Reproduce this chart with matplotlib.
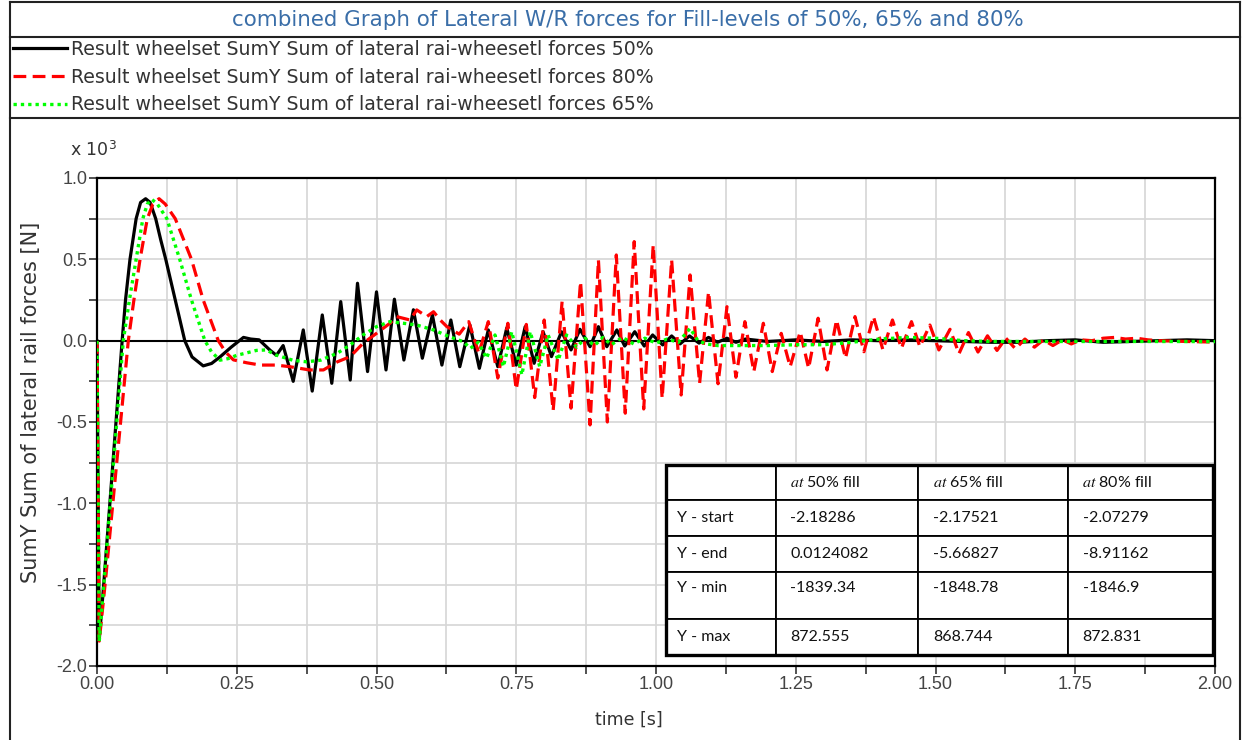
import numpy as np
import matplotlib.pyplot as plt
from matplotlib.lines import Line2D
from matplotlib.patches import Rectangle
from matplotlib.ticker import MultipleLocator, FormatStrFormatter

plt.rcParams['font.family'] = ['Liberation Sans', 'DejaVu Sans']
plt.rcParams['mathtext.fontset'] = 'stix'
WIDE = 'DejaVu Sans'

# (time [s], lateral force [N]) for each fill level
fill50 = [
    (0.0, -2.18286), (0.004, -1839.34), (0.012, -1500), (0.023, -1000), (0.034, -500),
    (0.045, 0), (0.051, 250), (0.059, 500), (0.070, 750), (0.078, 850),
    (0.087, 872.555), (0.095, 850), (0.105, 750), (0.114, 620), (0.123, 500),
    (0.140, 250), (0.157, 0), (0.170, -100), (0.190, -155), (0.205, -140),
    (0.220, -100), (0.240, -40), (0.262, 20), (0.275, 10), (0.290, 5),
    (0.310, -60), (0.321, -90), (0.333, -30), (0.351, -250), (0.369, 66),
    (0.385, -310), (0.403, 158), (0.420, -262), (0.436, 240), (0.453, -242),
    (0.466, 353), (0.484, -190), (0.500, 300), (0.517, -180), (0.532, 255),
    (0.549, -119), (0.566, 190), (0.582, -108), (0.600, 158), (0.617, -150),
    (0.633, 127), (0.649, -160), (0.667, 97), (0.684, -170), (0.700, 66),
    (0.717, -160), (0.733, 78), (0.750, -150), (0.766, 86), (0.782, -139),
    (0.798, 55), (0.813, -98), (0.831, 55), (0.848, -57), (0.864, 70),
    (0.882, -37), (0.897, 86), (0.912, -37), (0.930, 66), (0.944, -33),
    (0.962, 55), (0.979, -33), (0.994, 35), (1.012, -26), (1.028, 29),
    (1.043, -20), (1.060, 29), (1.077, -15), (1.094, 20), (1.110, -10),
    (1.127, 15), (1.143, -10), (1.160, 10), (1.200, -5), (1.250, 5),
    (1.300, -5), (1.350, 5), (1.400, 0), (1.450, 5), (1.500, 0),
    (1.550, -5), (1.600, -10), (1.650, -10), (1.700, 0), (1.750, 5),
    (1.800, -10), (1.850, -5), (1.900, 0), (1.950, 5), (2.000, 0.0124082),
]

fill80 = [
    (0.0, -2.07279), (0.004, -1846.9), (0.015, -1480), (0.025, -1120), (0.035, -760),
    (0.045, -400), (0.056, 0), (0.066, 250), (0.077, 500), (0.090, 750),
    (0.100, 840), (0.111, 872.831), (0.122, 840), (0.140, 750), (0.169, 500),
    (0.190, 250), (0.217, 0), (0.230, -70), (0.244, -118), (0.268, -136),
    (0.292, -150), (0.320, -150), (0.345, -160), (0.380, -180), (0.405, -180),
    (0.430, -130), (0.453, -98), (0.476, -16), (0.500, 45), (0.524, 107),
    (0.536, 148), (0.560, 127), (0.572, 189), (0.590, 148), (0.602, 178),
    (0.614, 127), (0.626, 86), (0.648, 40), (0.665, 117), (0.683, -77),
    (0.700, 117), (0.717, -230), (0.735, 107), (0.750, -300), (0.768, 100),
    (0.783, -350), (0.800, 127), (0.816, -430), (0.832, 240), (0.848, -415),
    (0.865, 363), (0.882, -518), (0.897, 496), (0.913, -500), (0.929, 527),
    (0.945, -446), (0.961, 609), (0.978, -420), (0.995, 588), (1.011, -354),
    (1.028, 496), (1.045, -334), (1.061, 404), (1.078, -262), (1.094, 300),
    (1.111, -265), (1.127, 209), (1.143, -225), (1.159, 117), (1.175, -190),
    (1.192, 107), (1.208, -190), (1.224, 45), (1.240, -160), (1.258, 55),
    (1.273, -170), (1.290, 138), (1.306, -180), (1.323, 127), (1.339, -108),
    (1.356, 148), (1.372, -68), (1.389, 148), (1.406, -57), (1.423, 127),
    (1.439, -47), (1.457, 117), (1.472, -37), (1.490, 96), (1.506, -57),
    (1.526, 70), (1.542, -80), (1.559, 50), (1.576, -70), (1.593, 30),
    (1.610, -60), (1.626, 15), (1.643, -50), (1.660, 10), (1.677, -40),
    (1.693, 5), (1.710, -30), (1.727, 5), (1.743, -20), (1.760, 5),
    (1.780, 0), (1.800, 15), (1.820, 20), (1.840, 10), (1.860, 15),
    (1.880, 5), (1.900, 0), (1.950, -5), (2.000, -8.91162),
]

fill65 = [
    (0.0, -2.17521), (0.004, -1848.78), (0.010, -1590), (0.020, -1160), (0.030, -730),
    (0.040, -300), (0.047, 0), (0.058, 250), (0.070, 500), (0.082, 750),
    (0.090, 840), (0.098, 868.744), (0.108, 840), (0.125, 750), (0.148, 500),
    (0.169, 250), (0.193, 0), (0.205, -70), (0.220, -120), (0.235, -110),
    (0.250, -90), (0.268, -75), (0.285, -60), (0.303, -57), (0.320, -88),
    (0.350, -120), (0.375, -130), (0.400, -120), (0.430, -77), (0.453, -26),
    (0.476, 35), (0.500, 86), (0.524, 117), (0.548, 107), (0.572, 96),
    (0.602, 66), (0.630, 25), (0.655, -6), (0.668, -47), (0.682, -10),
    (0.697, -108), (0.712, 35), (0.727, -160), (0.742, 55), (0.760, -210),
    (0.775, 55), (0.792, -160), (0.807, 35), (0.825, -120), (0.840, 35),
    (0.858, -40), (0.873, 15), (0.890, -30), (0.905, 20), (0.920, -25),
    (0.940, 20), (0.960, -20), (0.980, 15), (1.000, -15), (1.020, 10),
    (1.040, -10), (1.061, 76), (1.075, 0), (1.090, -20), (1.110, -30),
    (1.150, -30), (1.200, -30), (1.250, -25), (1.300, -25), (1.350, -10),
    (1.400, 10), (1.450, 20), (1.500, 15), (1.550, 0), (1.600, -5),
    (1.700, -5), (1.800, -5), (1.900, -5), (2.000, -5.66827),
]

legend_base = 'Result wheelset SumY Sum of lateral rai-wheesetl forces '

col_heads = ['', r'$at$ 50% fill', r'$at$ 65% fill', r'$at$ 80% fill']
row_names = ['Y - start', 'Y - end', 'Y - min', 'Y - max']
stats50 = ['-2.18286', '0.0124082', '-1839.34', '872.555']
stats65 = ['-2.17521', '-5.66827', '-1848.78', '868.744']
stats80 = ['-2.07279', '-8.91162', '-1846.9', '872.831']

t50, y50 = np.array(fill50).T
t80, y80 = np.array(fill80).T
t65, y65 = np.array(fill65).T

W, H = 1248, 740
fig = plt.figure(figsize=(W / 100, H / 100), dpi=100)
ax = fig.add_axes([97 / W, 74 / H, 1118 / W, 488 / H])

ax.axhline(0, color='black', lw=1.5, zorder=2)
ax.plot(t50, y50 / 1000, color='black', lw=2.3, zorder=3, label=legend_base + '50%')
ax.plot(t80, y80 / 1000, color='#ff0000', lw=2.3, ls=(0, (4, 2)), zorder=4,
        label=legend_base + '80%')
ax.plot(t65, y65 / 1000, color='#00ff00', lw=2.4, ls=(0, (1, 1.2)), zorder=5,
        label=legend_base + '65%')

ax.set_xlim(0, 2)
ax.set_ylim(-2, 1)
ax.xaxis.set_major_locator(MultipleLocator(0.25))
ax.xaxis.set_minor_locator(MultipleLocator(0.125))
ax.yaxis.set_major_locator(MultipleLocator(0.5))
ax.yaxis.set_minor_locator(MultipleLocator(0.25))
ax.xaxis.set_major_formatter(FormatStrFormatter('%.2f'))
ax.yaxis.set_major_formatter(FormatStrFormatter('%.1f'))
ax.grid(True, which='both', color='#d6d6d6', lw=1.2, zorder=0)
ax.set_axisbelow(True)
ax.tick_params(which='both', direction='out', length=6, width=1.2, color='#333333',
               labelsize=13, labelcolor='#444444', pad=1)
for s in ax.spines.values():
    s.set_linewidth(1.6)
    s.set_color('black')

# statistics table
cells = [col_heads]
for i, name in enumerate(row_names):
    cells.append([name, stats50[i], stats65[i], stats80[i]])
col_w = [110, 142, 150, 145]
row_h = [35, 36, 36, 47, 36]
tbl = ax.table(cellText=cells, cellLoc='left',
               colWidths=[w / sum(col_w) for w in col_w],
               bbox=[569 / 1118, 11 / 488, 547 / 1118, 190 / 488])
tbl.auto_set_font_size(False)
tbl.set_fontsize(11.5)
tbl.set_zorder(10)
for (r, c), cell in tbl.get_celld().items():
    cell.set_height(row_h[r] / 488)
    cell.set_linewidth(1.3)
    cell.set_edgecolor('black')
    cell.set_facecolor('white')
    txt = cell.get_text()
    txt.set_fontfamily(['Lato', 'DejaVu Sans'])
    txt.set_color('#111111')
    if r == 3:
        txt.set_va('bottom')
ax.add_patch(Rectangle((569 / 1118, 11 / 488), 547 / 1118, 190 / 488,
                       transform=ax.transAxes, fill=False, lw=2.4,
                       edgecolor='black', zorder=11))

# labels
fig.text(629 / W, 1 - 720 / H, 'time [s]', ha='center', va='center',
         fontsize=12.5, color='#333333', family=WIDE)
fig.text(31 / W, 1 - 402 / H, 'SumY Sum of lateral rail forces [N]', rotation=90,
         ha='center', va='center', fontsize=15, color='#333333', family=WIDE)
fig.text(70 / W, 1 - 150 / H, r'x 10$^{\mathregular{3}}$', ha='left', va='center',
         fontsize=12.5, color='#333333', family=WIDE)

# header: title, legend and frame
fig.text(628 / W, 1 - 20 / H,
         'combined Graph of Lateral W/R forces for Fill-levels of 50%, 65% and 80%',
         ha='center', va='center', fontsize=15.4, color='#3a6ea8', family=WIDE)
fig.legend(loc='upper left', bbox_to_anchor=(13 / W, 1 - 40 / H), frameon=False,
           prop={'family': WIDE, 'size': 13.6}, handlelength=2.85,
           handletextpad=0.22, labelspacing=0.46, borderpad=0, borderaxespad=0,
           labelcolor='#333333')

for x in (10, 1240):
    fig.add_artist(Line2D([x / W, x / W], [0, 1 - 2 / H], transform=fig.transFigure,
                          color='#222222', lw=1.5))
for y in (2, 37, 118):
    fig.add_artist(Line2D([10 / W, 1240 / W], [1 - y / H, 1 - y / H],
                          transform=fig.transFigure, color='#222222', lw=1.5))

fig.savefig('out.png', dpi=100)
